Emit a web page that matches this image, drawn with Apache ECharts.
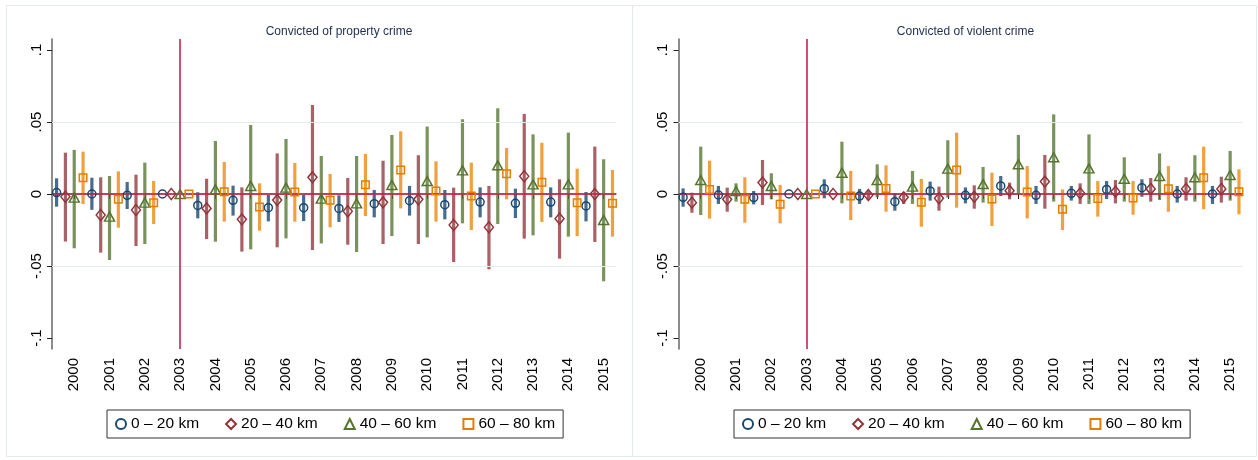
<!DOCTYPE html>
<html>
<head>
<meta charset="utf-8">
<script src="https://cdn.jsdelivr.net/npm/echarts@6/dist/echarts.min.js"></script>
<style>
html,body{margin:0;padding:0;background:#fff;}
#chart{width:1258px;height:460px;}
</style>
</head>
<body>
<div id="chart"></div>
<script>
// ---------- DATA ----------
const years = [2000,2001,2002,2003,2004,2005,2006,2007,2008,2009,2010,2011,2012,2013,2014,2015];
const groupNames = ['0 \u2013 20 km','20 \u2013 40 km','40 \u2013 60 km','60 \u2013 80 km'];
const panelTitles = ['Convicted of property crime','Convicted of violent crime'];
const yTickValues = [-0.1,-0.05,0,0.05,0.1];
const yTickLabels = ['-.1','-.05','0','.05','.1'];
const refYear = 2003;

// Property crime
const prop_0_20_est = [0.001,0,-0.0009,0,-0.0079,-0.0044,-0.0095,-0.0095,-0.010,-0.0067,-0.0046,-0.0074,-0.0056,-0.0065,-0.0056,-0.0083];
const prop_0_20_lo  = [-0.0088,-0.011,-0.0104,null,-0.0169,-0.015,-0.019,-0.0188,-0.0194,-0.0162,-0.015,-0.0176,-0.0162,-0.0167,-0.0162,-0.019];
const prop_0_20_hi  = [0.0109,0.0113,0.0083,null,0.0012,0.0058,-0.0007,-0.0007,-0.0009,0.0028,0.0056,0.0028,0.0046,0.0037,0.0046,0.0014];

const prop_20_40_est = [-0.0019,-0.0146,-0.0111,0,-0.010,-0.0176,-0.0042,0.0116,-0.012,-0.0058,-0.0037,-0.0215,-0.0231,0.0123,-0.0171,0];
const prop_20_40_lo  = [-0.033,-0.0407,-0.0361,null,-0.0313,-0.040,-0.037,-0.0389,-0.0352,-0.0347,-0.0347,-0.0472,-0.0523,-0.031,-0.0449,-0.0333];
const prop_20_40_hi  = [0.0287,0.0116,0.0134,null,0.0106,0.0046,0.0282,0.0618,0.0111,0.0231,0.0269,0.0044,0.0056,0.0556,0.0102,0.0329];

const prop_40_60_est = [-0.0025,-0.0157,-0.006,0,0.0032,0.0056,0.0044,-0.0032,-0.0065,0.0063,0.009,0.0164,0.0199,0.0067,0.0067,-0.018];
const prop_40_60_lo  = [-0.0377,-0.0458,-0.0347,null,-0.0331,-0.0384,-0.0308,-0.0343,-0.0403,-0.0292,-0.0301,-0.0204,-0.0208,-0.0287,-0.0296,-0.0606];
const prop_40_60_hi  = [0.0306,0.0125,0.0218,null,0.0368,0.0479,0.0382,0.0264,0.0264,0.041,0.0468,0.0519,0.0595,0.0414,0.0426,0.0241];

const prop_60_80_est = [0.0113,-0.0037,-0.006,0,0.0016,-0.009,0.0014,-0.0044,0.0065,0.0167,0.0021,-0.0014,0.0141,0.0081,-0.006,-0.0065];
const prop_60_80_lo  = [-0.0069,-0.0234,-0.0208,null,-0.0192,-0.0255,-0.0192,-0.0231,-0.0153,-0.010,-0.0192,-0.025,-0.0037,-0.0194,-0.0292,-0.0296];
const prop_60_80_hi  = [0.0294,0.0157,0.009,null,0.0222,0.0074,0.0215,0.0139,0.0278,0.0435,0.0227,0.0218,0.0319,0.0356,0.0176,0.0167];

// Violent crime
const viol_0_20_est = [-0.0023,-0.0007,-0.0025,0,0.0037,-0.0014,-0.0053,0.0021,-0.0009,0.0056,-0.0009,0.0005,0.0032,0.0044,0,0];
const viol_0_20_lo  = [-0.0088,-0.0069,-0.0072,null,-0.003,-0.0069,-0.0116,-0.0046,-0.0065,-0.0014,-0.0069,-0.0046,-0.0035,-0.0019,-0.006,-0.0069];
const viol_0_20_hi  = [0.0039,0.0056,0.0021,null,0.0102,0.0035,0.0005,0.0086,0.0046,0.0125,0.0056,0.0056,0.009,0.0102,0.0056,0.0056];

const viol_20_40_est = [-0.006,-0.0037,0.0079,0,0,-0.0007,-0.0023,-0.003,-0.0019,0.0023,0.0086,0.0005,0.0016,0.0035,0.0035,0.0035];
const viol_20_40_lo  = [-0.013,-0.0123,-0.0076,null,-0.0007,-0.0037,-0.0069,-0.0116,-0.0102,-0.0037,-0.0102,-0.0069,-0.0065,-0.0053,-0.0046,-0.006];
const viol_20_40_hi  = [0.0009,0.0044,0.0236,null,0.0007,0.0023,0.0014,0.0051,0.006,0.0079,0.0271,0.0074,0.0097,0.0111,0.0116,0.012];

const viol_40_60_est = [0.0097,0.0021,0.0056,0,0.0148,0.0097,0.0051,0.0176,0.0069,0.0206,0.0255,0.0178,0.0106,0.0125,0.0116,0.0132];
const viol_40_60_lo  = [-0.0146,-0.0053,-0.0037,null,-0.0065,-0.0023,-0.0069,-0.0025,-0.006,0,-0.0053,-0.0069,-0.0053,-0.0042,-0.0053,-0.0046];
const viol_40_60_hi  = [0.0329,0.0074,0.0144,null,0.0363,0.0206,0.016,0.0373,0.0188,0.041,0.0553,0.0414,0.0255,0.0282,0.0269,0.0299];

const viol_60_80_est = [0.0032,-0.0037,-0.0072,0,-0.0014,0.0039,-0.0058,0.0167,-0.0035,0.0014,-0.0106,-0.0032,-0.0028,0.0037,0.0113,0.0016];
const viol_60_80_lo  = [-0.0171,-0.0199,-0.0204,null,-0.0181,-0.0123,-0.0227,-0.0095,-0.0222,-0.0169,-0.025,-0.0157,-0.0144,-0.0123,-0.0106,-0.0141];
const viol_60_80_hi  = [0.0231,0.0116,0.0063,null,0.016,0.0199,0.0104,0.0426,0.0148,0.0194,0.0032,0.009,0.009,0.0194,0.0329,0.0171];

// ---------- STYLE ----------
const groupOffsets = [-0.5,-0.25,0,0.25];
const markerColors = ['#1a476f','#90353b','#55752f','#e37e00'];
const barColors = ['rgba(26,71,111,0.8)','rgba(144,53,59,0.78)','rgba(85,117,47,0.78)','rgba(235,135,10,0.78)'];
const symbols = ['circle','diamond','triangle','rect'];
const symbolSizes = [8,[9,11],[10,9],7.5];
const FONT = "'Liberation Sans', Arial, sans-serif";

const panels = [
  {est:[prop_0_20_est,prop_20_40_est,prop_40_60_est,prop_60_80_est],
   lo:[prop_0_20_lo,prop_20_40_lo,prop_40_60_lo,prop_60_80_lo],
   hi:[prop_0_20_hi,prop_20_40_hi,prop_40_60_hi,prop_60_80_hi]},
  {est:[viol_0_20_est,viol_20_40_est,viol_40_60_est,viol_60_80_est],
   lo:[viol_0_20_lo,viol_20_40_lo,viol_40_60_lo,viol_60_80_lo],
   hi:[viol_0_20_hi,viol_20_40_hi,viol_40_60_hi,viol_60_80_hi]}
];

const gridLefts = [52, 678.5];
const gridW = 564, gridTop = 39, gridH = 310;

function yFmt(v){
  for (let i=0;i<yTickValues.length;i++) if (Math.abs(v-yTickValues[i])<1e-9) return yTickLabels[i];
  return '';
}

const grids = [], xAxes = [], yAxes = [], series = [], titles = [], legends = [];
panels.forEach((p, pi) => {
  grids.push({left: gridLefts[pi], top: gridTop, width: gridW, height: gridH, containLabel:false});
  xAxes.push({
    type:'value', gridIndex: pi, min: 1999.37, max: 2015.35,
    axisLine:{show:true, lineStyle:{color:'#707070', width:1.6}},
    axisTick:{show:true, customValues: years, length:5, lineStyle:{color:'#222', width:1}},
    axisLabel:{customValues: years, rotate:90, margin:9, fontSize:15, color:'#000', fontFamily:FONT,
      formatter: v => String(Math.round(v))},
    splitLine:{show:false}
  });
  yAxes.push({
    type:'value', gridIndex: pi, min:-0.1076, max:0.1076,
    axisLine:{show:true, lineStyle:{color:'#707070', width:1.6}},
    axisTick:{show:true, customValues: yTickValues, length:5, lineStyle:{color:'#222', width:1}},
    axisLabel:{customValues: yTickValues, rotate:90, margin:8, fontSize:15, color:'#000', fontFamily:FONT, formatter: yFmt},
    splitLine:{show:false}
  });
  titles.push({text: panelTitles[pi], left: gridLefts[pi] + gridW/2, top: 21, textAlign:'center',
    textStyle:{fontSize:12, fontWeight:'normal', color:'#1f2d4f', fontFamily:FONT}});
  legends.push({
    data: groupNames, left: [107, 734][pi], top: 410,
    orient:'horizontal', itemWidth:10, itemHeight:10, itemGap:26,
    padding:[6,8,6,8], borderColor:'#333', borderWidth:1, backgroundColor:'#fff',
    textStyle:{fontSize:15.5, color:'#000', fontFamily:FONT}, selectedMode:false
  });
  // error bars
  for (let g=0; g<4; g++) {
    const bars = [];
    years.forEach((yr,i) => {
      if (p.lo[g][i] != null && p.hi[g][i] != null) bars.push([yr + groupOffsets[g], p.lo[g][i], p.hi[g][i]]);
    });
    series.push({
      type:'custom', xAxisIndex:pi, yAxisIndex:pi, z:3, silent:true,
      itemStyle:{color: barColors[g]},
      encode:{x:0, y:[1,2]},
      data: bars,
      renderItem: function(params, api){
        const x = api.value(0), lo = api.value(1), hi = api.value(2);
        const a = api.coord([x, lo]), b = api.coord([x, hi]);
        return {type:'line', shape:{x1:a[0], y1:a[1], x2:b[0], y2:b[1]},
          style:{stroke: barColors[g], lineWidth:3.2}};
      }
    });
  }
  // reference lines
  series.push({
    type:'line', xAxisIndex:pi, yAxisIndex:pi, data:[], z:2, silent:true,
    markLine:{silent:true, symbol:['none','none'], label:{show:false}, animation:false,
      data:[
        {yAxis:0.05, lineStyle:{color:'#e4ecee', width:1, type:'solid'}},
        {yAxis:-0.05, lineStyle:{color:'#e4ecee', width:1, type:'solid'}},
        {yAxis:0, lineStyle:{color:'#d4224c', width:1.6, type:'solid'}},
        {xAxis:refYear, lineStyle:{color:'#cc3d66', width:1.8, type:'solid'}}
      ]}
  });
  // markers
  for (let g=0; g<4; g++) {
    series.push({
      type:'scatter', name: groupNames[g], xAxisIndex:pi, yAxisIndex:pi, z:5,
      symbol: symbols[g], symbolSize: symbolSizes[g],
      itemStyle:{color:'rgba(255,255,255,0)', borderColor: markerColors[g], borderWidth:1.5, opacity:1},
      data: years.map((yr,i) => [yr + groupOffsets[g], p.est[g][i]])
    });
  }
});

const chart = echarts.init(document.getElementById('chart'), null, {renderer:'canvas'});
chart.setOption({
  animation:false,
  backgroundColor:'#fff',
  title: titles,
  legend: legends,
  grid: grids,
  xAxis: xAxes,
  yAxis: yAxes,
  series: series,
  graphic: [
    {type:'rect', shape:{x:6.5, y:5.5, width:626, height:451}, style:{fill:'none', stroke:'#e3eaec', lineWidth:1}, z:-1, silent:true},
    {type:'rect', shape:{x:632.5, y:5.5, width:624, height:451}, style:{fill:'none', stroke:'#e3eaec', lineWidth:1}, z:-1, silent:true}
  ]
});
</script>
</body>
</html>
